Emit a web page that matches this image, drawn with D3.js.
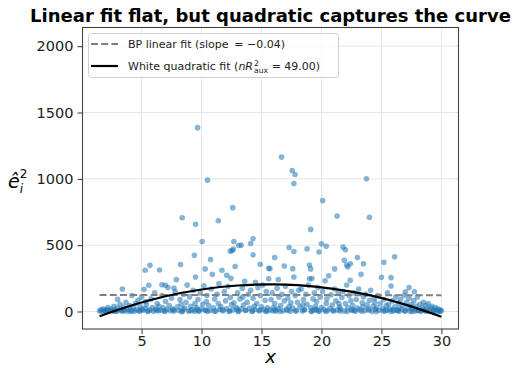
<!DOCTYPE html>
<html>
<head>
<meta charset="utf-8">
<script src="https://cdn.jsdelivr.net/npm/d3@7"></script>
<style>
  body { margin: 0; background: #fff; }
  svg { display: block; font-family: "DejaVu Sans", sans-serif; }
</style>
</head>
<body>
<svg id="chart"></svg>
<script>
// squared residuals: [x, e^2]
var residPoints = [
  // upper outliers
  [9.67,1386],[10.5,990],[8.39,707],[9.5,657],[11.4,684],[12.6,783],[10.05,528],[9.4,424],
  [12.7,528],[13.1,498],[13.3,500],[12.55,460],[12.65,470],[14.1,513],[14.3,548],[14.3,427],
  [10.75,392],[8.25,354],[5.7,348],[5.3,311],[6.5,313],[14.9,356],[11.7,311],[10.3,321],
  [3.4,169],[6.7,202],[15.7,323],[12.1,273],[7.0,197],[7.7,177],[12.4,455],
  [16.67,1164],[17.56,1063],[17.8,1033],[17.7,965],[23.75,1000],[20.1,836],[24.0,710],[21.3,720],
  [19.1,619],[17.3,482],[17.7,452],[18.8,472],[20.0,510],[20.4,492],[19.8,449],[21.8,485],
  [22.0,465],[16.1,407],[23.0,407],[26.1,412],[23.5,359],[25.2,371],[16.9,343],[17.6,323],
  [19.0,351],[19.1,321],[21.9,386],[22.1,351],[22.2,336],[22.4,359],[21.1,321],[15.6,326],
  [16.4,240],[18.3,169],[27.0,149],[27.3,180],[27.75,149],[25.8,192],[19.2,248],
  // main band
  [1.5,4],[1.6,12],[1.7,2],[1.8,20],[1.9,7],[2.0,1],[2.1,15],[2.2,30],[2.3,5],[2.4,9],[2.5,18],
  [2.6,3],[2.7,40],[2.8,11],[2.9,0],[3.0,25],[3.1,8],[3.2,55],[3.3,14],[3.4,2],[3.5,33],
  [3.6,6],[3.7,70],[3.8,18],[3.9,1],[4.0,44],[4.1,10],[4.2,121],[4.3,26],[4.4,3],[4.5,60],[3.0,91],
  [4.6,14],[4.7,85],[4.8,2],[4.9,35],[5.0,110],[5.1,8],[5.2,167],[5.3,22],[5.4,50],[5.5,4],[5.35,75],
  [5.6,197],[5.7,12],[5.8,95],[5.9,30],[6.0,1],[6.1,140],[6.2,18],[6.3,60],[6.4,5],[6.45,40],
  [6.6,9],[6.7,120],[6.8,28],[6.9,2],[7.0,75],[7.1,15],[7.2,180],[7.3,45],[7.4,6],[7.5,100],
  [7.6,20],[7.7,3],[7.8,150],[7.9,240],[8.0,35],[8.1,8],[8.2,90],[8.3,55],[8.4,1],[8.5,130],[8.45,18],
  [8.6,25],[8.7,70],[8.8,199],[8.9,4],[9.0,110],[9.1,40],[9.2,12],[9.3,160],[9.4,2],[9.5,260],[9.45,60],
  [9.6,30],[9.7,90],[9.8,5],[9.9,140],[10.0,20],[10.1,55],[10.2,194],[10.3,10],[10.4,75],[10.5,1],[10.45,120],
  [10.6,45],[10.7,8],[10.8,170],[10.9,280],[11.0,28],[11.1,95],[11.2,3],[11.3,130],[11.4,60],[11.5,15],[11.45,210],
  [11.6,38],[11.8,6],[11.9,150],[12.0,80],[12.1,22],[12.2,190],[12.3,2],[12.4,105],[12.5,50],[12.45,250],
  [12.6,12],[12.7,65],[12.8,339],[12.9,30],[13.0,140],[13.1,4],[13.2,95],[13.3,20],[13.4,175],[13.5,48],[13.45,110],
  [13.6,227],[13.7,9],[13.8,70],[13.9,130],[14.0,25],[14.1,160],[14.2,2],[14.3,100],[14.4,40],[14.5,220],[14.45,15],
  [14.6,60],[14.7,180],[14.8,5],[14.9,120],[15.0,35],[15.1,200],[15.2,14],[15.3,85],[15.4,150],[15.5,28],[15.45,1],
  [15.6,247],[15.7,10],[15.8,90],[15.9,140],[16.0,30],[16.1,60],[16.2,3],[16.3,175],[16.4,20],[16.45,110],
  [16.6,45],[16.7,130],[16.8,6],[16.9,80],[17.0,190],[17.1,18],[17.2,100],[17.3,38],[17.4,2],[17.5,150],[17.45,65],
  [17.6,25],[17.7,260],[17.8,120],[17.9,8],[18.0,70],[18.1,160],[18.2,35],[18.4,4],[18.5,90],[18.45,50],
  [18.6,15],[18.7,130],[18.8,55],[18.9,200],[19.0,247],[19.1,28],[19.2,5],[19.3,95],[19.4,140],[19.5,40],[19.45,12],
  [19.6,75],[19.7,180],[19.8,2],[19.9,110],[20.0,30],[20.1,150],[20.2,14],[20.3,232],[20.4,60],[20.5,6],[20.45,95],
  [20.6,270],[20.7,22],[20.8,125],[20.9,48],[21.0,3],[21.1,170],[21.2,80],[21.3,10],[21.4,140],[21.5,35],[21.45,60],
  [21.6,18],[21.7,105],[21.8,150],[21.9,4],[22.0,60],[22.1,200],[22.2,30],[22.3,120],[22.4,235],[22.5,9],[22.45,80],
  [22.6,45],[22.7,140],[22.8,2],[22.9,90],[23.0,25],[23.1,170],[23.2,12],[23.3,280],[23.4,65],[23.5,110],[23.45,35],
  [23.6,5],[23.7,130],[23.8,50],[23.9,20],[24.0,85],[24.1,160],[24.2,1],[24.3,40],[24.4,100],[24.5,15],[24.45,70],
  [24.6,30],[24.7,120],[24.8,8],[24.9,60],[25.0,258],[25.1,22],[25.2,90],[25.3,3],[25.4,45],[25.5,140],[25.45,12],
  [25.6,55],[25.7,18],[25.8,255],[25.9,80],[26.0,4],[26.1,35],[26.2,110],[26.3,10],[26.4,65],[26.5,28],[26.45,2],
  [26.6,90],[26.7,14],[26.8,45],[26.9,120],[27.0,6],[27.1,70],[27.2,25],[27.3,100],[27.4,1],[27.5,50],[27.45,35],
  [27.6,18],[27.7,80],[27.8,4],[27.9,40],[28.0,110],[28.1,10],[28.2,55],[28.3,2],[28.4,30],[28.5,70],[28.45,12],
  [28.6,8],[28.7,45],[28.8,20],[28.9,60],[29.0,3],[29.1,25],[29.2,40],[29.3,1],[29.4,15],[29.5,30],
  [29.6,6],[29.7,20],[29.8,2],[29.9,12],[30.0,5],
  // extra near-zero
  [2.05,6],[2.75,3],[3.45,10],[4.15,1],[4.85,7],[5.55,2],[6.25,9],[6.95,4],[7.65,11],[8.35,0],
  [9.05,6],[9.75,3],[10.35,8],[11.05,1],[11.75,12],[12.35,4],[13.05,0],[13.65,7],[14.25,3],[14.85,10],
  [15.35,2],[15.95,5],[16.55,1],[17.15,8],[17.85,3],[18.55,11],[19.15,0],[19.75,6],[20.35,2],[20.95,9],
  [21.55,4],[22.15,1],[22.75,7],[23.35,3],[23.95,10],[24.55,0],[25.15,5],[25.75,2],[26.35,8],[26.95,3],
  [27.55,1],[28.15,6],[28.75,2],[29.35,4],[29.85,1],[5.05,18],[9.55,14],[12.95,16],[16.15,13],[19.55,17],
  [22.55,15],[25.95,12],[27.95,9]
];

// fitted lines
var bpX = [1.5, 30];
var bpY = [124.2, 123.1];
var quadX = [1.5, 4, 7, 10, 13, 15.7, 18, 21, 24, 27, 30];
var quadY = [-36, 41, 115, 166, 196, 205, 199, 171, 123, 52, -39];

var xTicks = [5, 10, 15, 20, 25, 30];
var yTicks = [0, 500, 1000, 1500, 2000];

var titleText = "Linear fit flat, but quadratic captures the curve";

var W = 515, H = 368;
var pLeft = 82.5, pRight = 458.5, pTop = 27.5, pBottom = 329;

var svg = d3.select("#chart").attr("width", W).attr("height", H);

var x = d3.scaleLinear().domain([0.075, 31.425]).range([pLeft, pRight]);
var y = d3.scaleLinear().domain([-132, 2141]).range([pBottom, pTop]);

// grid
var grid = svg.append("g");
grid.selectAll(".gx").data(xTicks).enter().append("line")
  .attr("x1", function(d) { return x(d); }).attr("x2", function(d) { return x(d); })
  .attr("y1", pTop).attr("y2", pBottom)
  .style("stroke", "#e6e6e6").style("stroke-width", 1);
grid.selectAll(".gy").data(yTicks).enter().append("line")
  .attr("y1", function(d) { return y(d); }).attr("y2", function(d) { return y(d); })
  .attr("x1", pLeft).attr("x2", pRight)
  .style("stroke", "#e6e6e6").style("stroke-width", 1);

// points
svg.append("g").selectAll("circle")
  .data(residPoints)
  .enter().append("circle")
    .attr("cx", function(d) { return x(d[0]); })
    .attr("cy", function(d) { return y(d[1]); })
    .attr("r", 2.8)
    .style("fill", "#1f77b4")
    .style("fill-opacity", 0.55);

// BP linear fit
var bpLine = d3.line()
  .x(function(d, i) { return x(bpX[i]); })
  .y(function(d) { return y(d); });
svg.append("path")
  .attr("d", bpLine(bpY))
  .style("fill", "none")
  .style("stroke", "#808080")
  .style("stroke-width", 2)
  .style("stroke-dasharray", "7,3.2");

// White quadratic fit
var quadLine = d3.line()
  .x(function(d, i) { return x(quadX[i]); })
  .y(function(d) { return y(d); })
  .curve(d3.curveNatural);
svg.append("path")
  .attr("d", quadLine(quadY))
  .style("fill", "none")
  .style("stroke", "#000")
  .style("stroke-width", 2.2);

// axes
var xAxis = svg.append("g")
  .attr("transform", "translate(0," + pBottom + ")")
  .call(d3.axisBottom(x).tickValues(xTicks).tickSize(5).tickPadding(2));
var yAxis = svg.append("g")
  .attr("transform", "translate(" + pLeft + ",0)")
  .call(d3.axisLeft(y).tickValues(yTicks).tickSize(5).tickPadding(4).tickFormat(d3.format("d")));
[xAxis, yAxis].forEach(function(a) {
  a.select(".domain").remove();
  a.selectAll("line").style("stroke", "#333");
  a.selectAll("text").style("font-size", "14.5px").style("fill", "#222")
    .style("font-family", "DejaVu Sans");
});

// frame
svg.append("rect")
  .attr("x", pLeft).attr("y", pTop)
  .attr("width", pRight - pLeft).attr("height", pBottom - pTop)
  .style("fill", "none").style("stroke", "#444").style("stroke-width", 1.1);

// title
svg.append("text")
  .attr("x", (pLeft + pRight) / 2).attr("y", 22)
  .attr("text-anchor", "middle")
  .style("font-size", "18px").style("font-weight", "bold").style("fill", "#000")
  .text(titleText);

// x label
svg.append("text")
  .attr("x", (pLeft + pRight) / 2).attr("y", 363)
  .attr("text-anchor", "middle")
  .style("font-size", "18px").style("font-style", "italic")
  .text("x");

// y label  e-hat_i^2
var yl = svg.append("text").attr("x", 8).attr("y", 188).style("font-size", "19px");
yl.append("tspan").style("font-style", "italic").text("\u00ea");
yl.append("tspan").attr("dy", 5).style("font-size", "12px").style("font-style", "italic").text("i");
yl.append("tspan").attr("dx", -3.3).attr("dy", -15).style("font-size", "12px").text("2");

// legend
var lg = svg.append("g");
lg.append("rect")
  .attr("x", 88.5).attr("y", 33.5).attr("width", 250).attr("height", 44)
  .attr("rx", 3)
  .style("fill", "#fff").style("fill-opacity", 0.8)
  .style("stroke", "#d0d0d0").style("stroke-width", 1);
lg.append("line")
  .attr("x1", 91).attr("x2", 118).attr("y1", 44).attr("y2", 44)
  .style("stroke", "#808080").style("stroke-width", 2).style("stroke-dasharray", "7,3.2");
lg.append("line")
  .attr("x1", 91).attr("x2", 118).attr("y1", 66).attr("y2", 66)
  .style("stroke", "#000").style("stroke-width", 2.2);
lg.append("text")
  .attr("x", 128).attr("y", 48)
  .style("font-size", "11px").style("fill", "#222")
  .text("BP linear fit (slope \u2009= \u22120.04)");
var l2 = lg.append("text").attr("x", 128).attr("y", 70)
  .style("font-size", "11px").style("fill", "#222");
l2.append("tspan").text("White quadratic fit (");
l2.append("tspan").style("font-style", "italic").text("nR");
l2.append("tspan").attr("dx", 1).attr("dy", -4.5).style("font-size", "7.7px").text("2");
l2.append("tspan").attr("dx", -4.9).attr("dy", 7.5).style("font-size", "7.7px").text("aux");
l2.append("tspan").attr("dy", -3).text(" = 49.00)");
</script>
</body>
</html>
